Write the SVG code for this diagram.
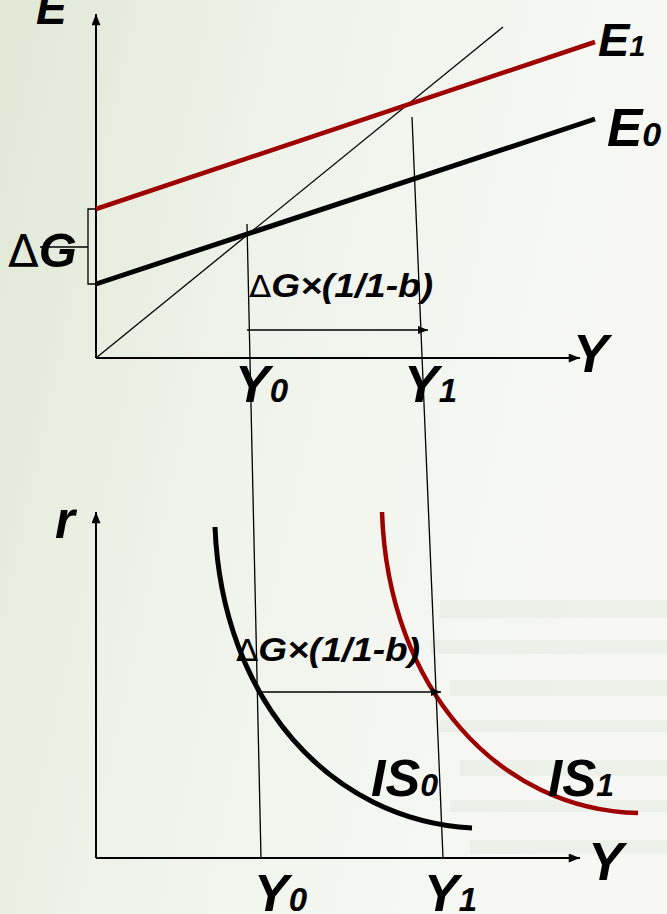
<svg xmlns="http://www.w3.org/2000/svg" width="667" height="914" viewBox="0 0 667 914">
  <defs>
    <linearGradient id="bg" x1="0" y1="0" x2="1" y2="0.3">
      <stop offset="0" stop-color="#e0e8d5"/>
      <stop offset="0.45" stop-color="#f0f3eb"/>
      <stop offset="1" stop-color="#f7f8f5"/>
    </linearGradient>
    <marker id="ah" viewBox="0 0 10 8" refX="10" refY="4" markerWidth="10" markerHeight="8" markerUnits="userSpaceOnUse" orient="auto">
      <path d="M0,0 L10,4 L0,8 Z" fill="#000"/>
    </marker>
    <marker id="ahs" viewBox="0 0 10 8" refX="10" refY="4" markerWidth="12" markerHeight="9" markerUnits="userSpaceOnUse" orient="auto">
      <path d="M0,0 L10,4 L0,8 Z" fill="#000"/>
    </marker>
    <style>
      .lbl { font-family: "Liberation Sans", Arial, sans-serif; font-weight: bold; font-style: italic; fill: #000; }
      .delta { font-family: "DejaVu Sans", "Liberation Sans", sans-serif; font-weight: normal; font-style: normal; }
      .thin { stroke: #000; stroke-width: 1.3; fill: none; }
      .axis { stroke: #000; stroke-width: 2; fill: none; }
      .red { stroke: #9e0000; fill: none; }
      .blk { stroke: #000; fill: none; }
    </style>
  </defs>

  <rect x="0" y="0" width="667" height="914" fill="url(#bg)"/>
  <g opacity="0.18" fill="#c8cfbd">
    <rect x="440" y="600" width="227" height="18"/>
    <rect x="430" y="640" width="237" height="14"/>
    <rect x="450" y="680" width="217" height="16"/>
    <rect x="440" y="720" width="227" height="12"/>
    <rect x="460" y="760" width="207" height="16"/>
    <rect x="450" y="800" width="217" height="12"/>
    <rect x="470" y="840" width="197" height="14"/>
  </g>

  <g id="top-axes">
    <line class="axis" x1="96" y1="358" x2="96" y2="14" marker-end="url(#ahs)"/>
    <line class="axis" x1="96" y1="358" x2="580" y2="358" marker-end="url(#ahs)"/>
    <text class="lbl" x="36" y="24" font-size="46">E</text>
    <text class="lbl" x="573" y="372" font-size="53">Y</text>
  </g>

  <g id="line45">
    <line class="thin" x1="96" y1="358" x2="503" y2="27"/>
  </g>

  <g id="E1">
    <line class="red" stroke-width="4.5" x1="96" y1="209" x2="595" y2="42"/>
    <text class="lbl" x="598" y="56" font-size="47">E<tspan font-size="29">1</tspan></text>
  </g>

  <g id="E0">
    <line class="blk" stroke-width="5" x1="96" y1="284" x2="595" y2="119"/>
    <text class="lbl" x="607" y="146" font-size="53">E<tspan font-size="34">0</tspan></text>
  </g>

  <g id="deltaG">
    <path class="thin" d="M96,209 L88,209 L88,284 L96,284"/>
    <line class="thin" x1="40" y1="247" x2="88" y2="247"/>
    <text class="lbl" x="8" y="267" font-size="49"><tspan class="delta" font-size="45">Δ</tspan>G</text>
  </g>

  <g id="bottom-axes">
    <line class="axis" x1="96" y1="858" x2="96" y2="512" marker-end="url(#ahs)"/>
    <line class="axis" x1="96" y1="858" x2="580" y2="858" marker-end="url(#ahs)"/>
    <text class="lbl" x="55" y="538" font-size="51">r</text>
    <text class="lbl" x="588" y="880" font-size="53">Y</text>
  </g>

  <g id="IS0">
    <path class="blk" stroke-width="5" d="M215,527 C222,700 330,820 472,828"/>
    <text class="lbl" x="371" y="796" font-size="52">IS<tspan font-size="32">0</tspan></text>
  </g>

  <g id="IS1">
    <path class="red" stroke-width="4.5" d="M382,512 C388,690 500,810 638,813"/>
    <text class="lbl" x="548" y="796" font-size="51">IS<tspan font-size="32">1</tspan></text>
  </g>

  <g id="connectors">
    <line class="thin" x1="247" y1="224" x2="261" y2="858"/>
    <line class="thin" x1="412" y1="117" x2="443" y2="858"/>
    <line class="thin" x1="247" y1="330" x2="428" y2="330" marker-end="url(#ah)"/>
    <line class="thin" x1="257" y1="692" x2="441" y2="692" marker-end="url(#ah)"/>
  </g>

  <g id="labels-top">
    <text class="lbl" x="249" y="297" font-size="34" textLength="184" lengthAdjust="spacingAndGlyphs"><tspan class="delta" font-size="30">Δ</tspan>G×(1/1-b)</text>
    <text class="lbl" x="235" y="402" font-size="52">Y<tspan font-size="33">0</tspan></text>
    <text class="lbl" x="404" y="402" font-size="52">Y<tspan font-size="33">1</tspan></text>
  </g>

  <g id="labels-bottom">
    <text class="lbl" x="236" y="661" font-size="34" textLength="184" lengthAdjust="spacingAndGlyphs"><tspan class="delta" font-size="30">Δ</tspan>G×(1/1-b)</text>
    <text class="lbl" x="254" y="911" font-size="52">Y<tspan font-size="33">0</tspan></text>
    <text class="lbl" x="424" y="911" font-size="52">Y<tspan font-size="33">1</tspan></text>
  </g>
</svg>
